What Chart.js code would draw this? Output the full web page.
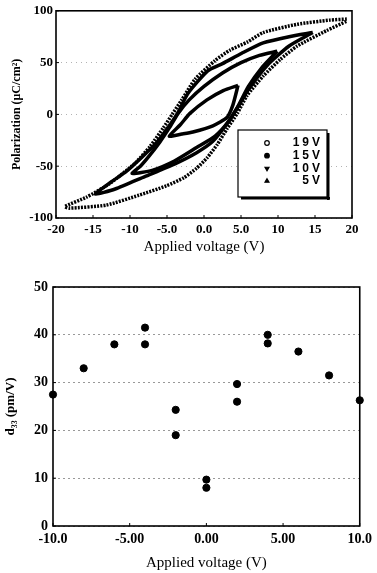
<!DOCTYPE html>
<html>
<head>
<meta charset="utf-8">
<script src="https://cdn.jsdelivr.net/npm/chart.js@4.4.1/dist/chart.umd.min.js"></script>
<style>
  body { margin: 0; background: #fff; }
  canvas { display: block; }
</style>
</head>
<body>
<canvas id="loops" width="377" height="262"></canvas>
<canvas id="d33" width="377" height="311"></canvas>
<script>
// P-E loops, each traced from the positive tip round the loop
const loopLabels = ['19V', '15V', '10V', '5V'];

const v19 = [19.3, 17, 12.6, 8, 5.9, 3.5, 1.5, -1.2, -3, -4.3, -5.5, -7.3, -9.3, -12.8, -15.9, -18.8,
  -18.2, -13.2, -8.8, -5.1, -2.7, -1, 0.4, 1.8, 3.1, 4.5, 5.8, 8, 10.3, 12.6, 16.6, 19.3];
const p19 = [92, 91, 87, 79, 70, 62, 52, 34, 14, 0, -13, -31, -47, -67, -80, -89,
  -90.5, -87.5, -78, -69, -61, -52, -42, -29, -14, 1, 18, 37, 53, 66, 81, 90];

const v15 = [14.7, 11.5, 8, 5.1, 2.5, 0.5, -2.2, -3.5, -4.8, -6.5, -8.5, -10.5, -12.5, -14.7,
  -12, -8, -4, -1, 1.2, 3, 4.4, 6, 8.5, 11.5, 14.7];
const p15 = [79, 75, 69, 59, 49, 42, 20, 2, -12, -28, -42, -55, -65, -77,
  -72, -60, -48, -37, -26, -10, 5, 24, 47, 66, 79];

const v10 = [9.9, 7.5, 5, 2.5, 0, -2, -3.5, -4.6, -6, -7.4, -8.6, -9.7,
  -7, -4, -1, 1.5, 3.3, 4.6, 6, 7.8, 9.9];
const p10 = [61, 57, 50, 40, 27, 14, 1, -12, -27, -40, -50, -57,
  -54, -45, -32, -21, -7, 8, 27, 45, 61];

const v5 = [4.6, 2.6, 0.4, -1.9, -3.2, -4.7, -3, -1.5, 1.2, 3.1, 3.9, 4.6];
const p5 = [28, 23, 14, 1, -10, -21, -19, -17, -11, -3, 9, 28];

const loopXTicks = ['-20', '-15', '-10', '-5.0', '0.0', '5.0', '10', '15', '20'];
const loopYTicks = ['-100', '-50', '0', '50', '100'];

// d33 vs bias
const biasV = [-10, -8, -6, -4, -4, -2, -2, 0, 0, 2, 2, 4, 4, 6, 8, 10];
const d33 = [27.5, 33, 38, 41.5, 38, 24.3, 19, 9.7, 8, 29.7, 26, 40, 38.2, 36.5, 31.5, 26.3];
const d33XTicks = ['-10.0', '-5.00', '0.00', '5.00', '10.0'];

const serif = "'Liberation Serif', 'Times New Roman', serif";

const pairs = (xs, ys) => xs.map((x, i) => ({ x: x, y: ys[i] }));

// box round the plot plus short inward tick marks
const frame = {
  id: 'frame',
  afterDatasetsDraw(chart) {
    const { ctx, chartArea: a, scales } = chart;
    ctx.save();
    ctx.strokeStyle = '#000';
    ctx.lineWidth = 1.6;
    ctx.strokeRect(a.left, a.top, a.right - a.left, a.bottom - a.top);
    ctx.lineWidth = 1;
    ctx.beginPath();
    scales.x.ticks.forEach(t => {
      const x = scales.x.getPixelForValue(t.value);
      ctx.moveTo(x, a.bottom);
      ctx.lineTo(x, a.bottom - 3);
    });
    scales.y.ticks.forEach(t => {
      const y = scales.y.getPixelForValue(t.value);
      ctx.moveTo(a.left, y);
      ctx.lineTo(a.left + 3, y);
    });
    ctx.stroke();
    ctx.restore();
  }
};

// legend box drawn inside the plot, lower right
const boxLegend = {
  id: 'boxLegend',
  afterDraw(chart, args, o) {
    if (!o.display) return;
    const ctx = chart.ctx;
    const w = o.right - o.left, h = o.bottom - o.top;
    ctx.save();
    ctx.fillStyle = '#000';
    ctx.fillRect(o.left + 3, o.bottom, w, 2.5);
    ctx.fillRect(o.right, o.top + 3, 2.5, h);
    ctx.fillStyle = '#fff';
    ctx.fillRect(o.left, o.top, w, h);
    ctx.strokeStyle = '#000';
    ctx.lineWidth = 1.2;
    ctx.strokeRect(o.left, o.top, w, h);
    chart.data.datasets.forEach((ds, i) => {
      const y = o.top + o.firstRow + i * o.rowGap;
      ctx.fillStyle = ds.pointStyle === 'circle' && i === 0 ? '#fff' : '#000';
      ctx.strokeStyle = '#000';
      Chart.helpers.drawPoint(ctx, {
        pointStyle: ds.pointStyle, rotation: ds.rotation || 0, radius: 2.3, borderWidth: 1
      }, o.markerX, y);
      ctx.fillStyle = '#000';
      ctx.font = "bold 12px 'Liberation Sans', Arial, sans-serif";
      ctx.letterSpacing = '3px';
      ctx.textAlign = 'right';
      ctx.textBaseline = 'middle';
      ctx.fillText(ds.label, o.textRight, y);
    });
    ctx.restore();
  }
};

const loopStyle = { borderColor: '#000', backgroundColor: '#000', showLine: true, fill: false,
  pointRadius: 0, pointHoverRadius: 0, tension: 0.2, borderWidth: 3.5 };

new Chart(document.getElementById('loops'), {
  type: 'scatter',
  data: {
    datasets: [
      Object.assign({}, loopStyle, { label: loopLabels[0], data: pairs(v19, p19), pointStyle: 'circle',
        borderWidth: 3.5, borderDash: [2, 1.2] }),
      Object.assign({}, loopStyle, { label: loopLabels[1], data: pairs(v15, p15), pointStyle: 'circle' }),
      Object.assign({}, loopStyle, { label: loopLabels[2], data: pairs(v10, p10), pointStyle: 'triangle', rotation: 180 }),
      Object.assign({}, loopStyle, { label: loopLabels[3], data: pairs(v5, p5), pointStyle: 'triangle' })
    ]
  },
  options: {
    responsive: false,
    animation: false,
    layout: { padding: { top: 10, right: 25, left: 0, bottom: 0 } },
    plugins: {
      legend: { display: false },
      tooltip: { enabled: false },
      boxLegend: { display: true, left: 238, top: 130, right: 327, bottom: 197,
        firstRow: 13, rowGap: 12.7, markerX: 267, textRight: 323 }
    },
    scales: {
      x: {
        type: 'linear', min: -20, max: 20,
        afterFit: s => { s.height = 44; },
        border: { display: false },
        grid: { display: false, drawTicks: false },
        ticks: { stepSize: 5, autoSkip: false, maxRotation: 0, padding: 4, color: '#000',
          font: { family: serif, size: 13, weight: 'bold' },
          callback: (v, i) => loopXTicks[i] },
        title: { display: true, text: 'Applied voltage (V)', color: '#000',
          font: { family: serif, size: 15 }, padding: { top: 0, bottom: 6 } }
      },
      y: {
        min: -100, max: 100,
        afterFit: s => { s.width = 56; },
        border: { display: false, dash: [1, 4] },
        grid: { drawTicks: false, color: 'rgba(0,0,0,0.3)', lineWidth: 1 },
        ticks: { stepSize: 50, autoSkip: false, padding: 3, color: '#000',
          font: { family: serif, size: 13, weight: 'bold' },
          callback: (v, i) => loopYTicks[i] },
        title: { display: true, text: 'Polarization (μC/cm²)', color: '#000',
          font: { family: serif, size: 12, weight: 'bold' }, padding: { top: 10, bottom: 0 } }
      }
    }
  },
  plugins: [frame, boxLegend]
});

new Chart(document.getElementById('d33'), {
  type: 'scatter',
  data: {
    datasets: [{
      label: 'd33',
      data: pairs(biasV, d33),
      backgroundColor: '#000',
      borderColor: '#000',
      pointRadius: 3.6,
      pointHoverRadius: 3.6,
      clip: false
    }]
  },
  options: {
    responsive: false,
    animation: false,
    layout: { padding: { top: 25, right: 15, left: 0, bottom: 0 } },
    plugins: {
      legend: { display: false },
      tooltip: { enabled: false }
    },
    scales: {
      x: {
        type: 'linear', min: -10, max: 10,
        afterFit: s => { s.height = 47; },
        border: { display: false },
        grid: { display: false, drawTicks: false },
        ticks: { stepSize: 5, autoSkip: false, maxRotation: 0, padding: 5, color: '#000',
          font: { family: serif, size: 14, weight: 'bold' },
          callback: (v, i) => d33XTicks[i] },
        title: { display: true, text: 'Applied voltage (V)', color: '#000',
          font: { family: serif, size: 15 }, padding: { top: 0, bottom: 1 } }
      },
      y: {
        min: 0, max: 50,
        afterFit: s => { s.width = 53; },
        border: { display: false, dash: [2, 3] },
        grid: { drawTicks: false, color: 'rgba(0,0,0,0.4)', lineWidth: 1 },
        ticks: { stepSize: 10, autoSkip: false, padding: 5, color: '#000',
          font: { family: serif, size: 14, weight: 'bold' } },
        title: { display: true, text: 'd₃₃ (pm/V)', color: '#000',
          font: { family: serif, size: 13, weight: 'bold' }, padding: { top: 3, bottom: 0 } }
      }
    }
  },
  plugins: [frame]
});
</script>
</body>
</html>
